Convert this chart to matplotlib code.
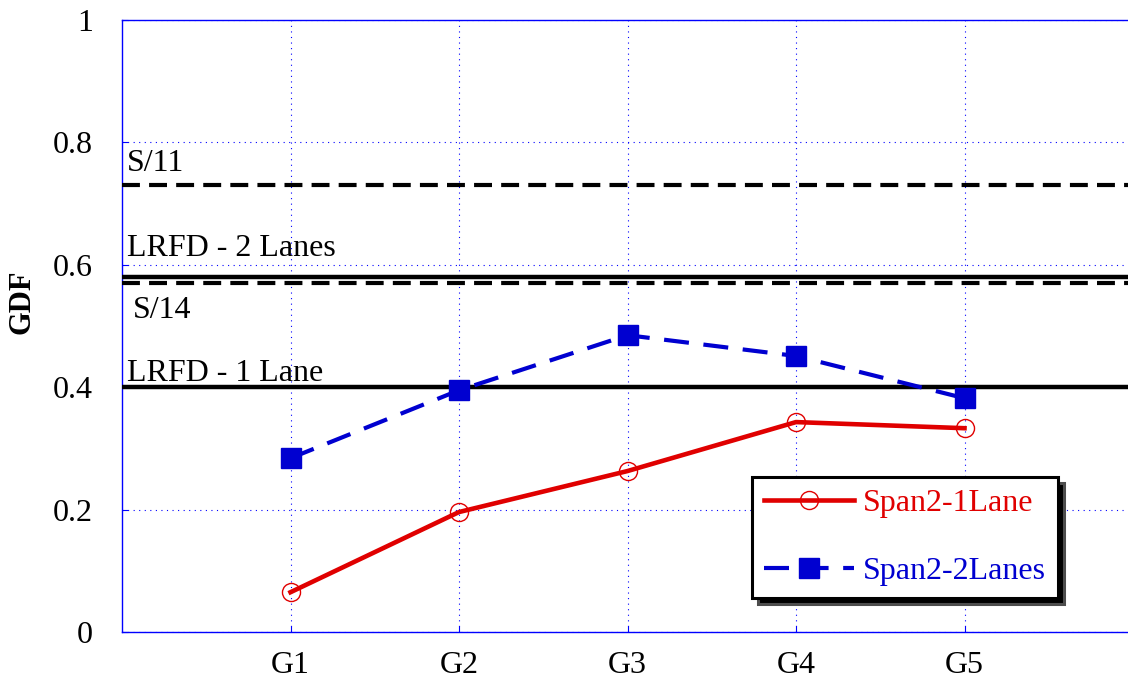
import matplotlib
matplotlib.use('Agg')
import matplotlib.pyplot as plt
import matplotlib.ticker as ticker

# girder labels and GDF values
girders = ['G1', 'G2', 'G3', 'G4', 'G5']
x_pos = [1, 2, 3, 4, 5]
span2_1lane = [0.065, 0.196, 0.263, 0.343, 0.333]
span2_2lanes = [0.284, 0.395, 0.485, 0.451, 0.382]

# reference levels
s_11 = 0.730
lrfd_2 = 0.580
s_14 = 0.570
lrfd_1 = 0.400

plt.rcParams['font.family'] = ['Liberation Serif', 'DejaVu Serif']
plt.rcParams['font.size'] = 23

fig = plt.figure(figsize=(11.28, 6.79), dpi=100)
ax = fig.add_axes([122/1128, 47/679, 1011/1128, 612/679])

# horizontal reference lines
ax.axhline(s_11, color='black', lw=3, dashes=(4.3, 2.2), zorder=3)
ax.axhline(lrfd_2, color='black', lw=3.2, zorder=3)
ax.axhline(s_14, color='black', lw=3, dashes=(4.3, 2.2), zorder=3)
ax.axhline(lrfd_1, color='black', lw=3.2, zorder=3)

ax.text(0.03, 0.765, 'S/11', fontsize=23, va='center')
ax.text(0.03, 0.627, 'LRFD - 2 Lanes', fontsize=23, va='center')
ax.text(0.065, 0.525, 'S/14', fontsize=23, va='center')
ax.text(0.03, 0.423, 'LRFD - 1 Lane', fontsize=23, va='center')

l1, = ax.plot(x_pos, span2_1lane, color='#e00000', lw=3.3, marker='o',
              markersize=13, markerfacecolor='none', markeredgewidth=1,
              label='Span2-1Lane', zorder=4)
l2, = ax.plot(x_pos, span2_2lanes, color='#0000d0', lw=3, marker='s',
              markersize=14, dashes=(6, 3.5), label='Span2-2Lanes', zorder=4)

ax.set_xlim(0, 6)
ax.set_ylim(0, 1)
ax.set_xticks(x_pos)
ax.set_xticklabels(girders)
ax.yaxis.set_major_locator(ticker.MultipleLocator(0.2))
ax.yaxis.set_major_formatter(ticker.FormatStrFormatter('%g'))
ax.tick_params(axis='both', direction='in', color='blue', length=4,
               labelsize=23)
ax.tick_params(axis='x', pad=14)
ax.tick_params(axis='y', pad=21)
ax.grid(True, color='blue', linestyle=(0, (1, 4)), lw=0.8)
for s in ax.spines.values():
    s.set_color('blue')
    s.set_linewidth(1)

ax.set_ylabel('GDF', fontweight='bold', fontsize=22)
ax.yaxis.set_label_coords(-0.085, 0.54)

leg = ax.legend(loc='upper left', bbox_to_anchor=(752/1128, 1 - 477/679),
                bbox_transform=fig.transFigure, borderaxespad=0,
                fancybox=False, handlelength=2.8, handletextpad=0.3,
                labelspacing=1.2, borderpad=0.38, numpoints=1,
                shadow={'ox': 4, 'oy': -4, 'facecolor': 'black', 'alpha': 1})
leg.get_frame().set_edgecolor('black')
leg.get_frame().set_linewidth(2.2)
leg.get_texts()[0].set_color('#e00000')
leg.get_texts()[1].set_color('#0000d0')

fig.savefig('out.png', dpi=100)
